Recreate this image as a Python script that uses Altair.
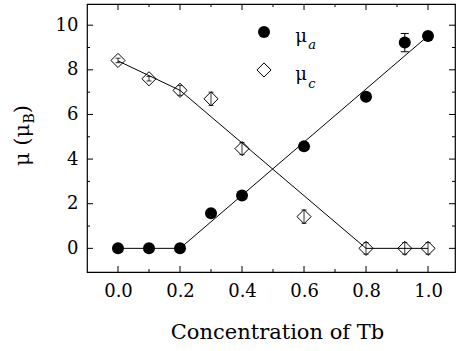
import altair as alt
import pandas as pd

# ---- data ----
conc = [0.0, 0.1, 0.2, 0.3, 0.4, 0.6, 0.8, 0.925, 1.0]
mu_a = [0.0, 0.0, 0.0, 1.57, 2.37, 4.57, 6.79, 9.22, 9.52]
mu_a_err = [0.1, 0.1, 0.1, 0.12, 0.12, 0.12, 0.12, 0.41, 0.12]
mu_c = [8.42, 7.6, 7.08, 6.7, 4.47, 1.42, 0.0, 0.0, 0.0]
mu_c_err = [0.1, 0.1, 0.22, 0.3, 0.27, 0.3, 0.26, 0.26, 0.26]

fit_a_x = [0.0, 0.2, 1.0]
fit_a_y = [0.0, 0.0, 9.52]
fit_c_x = [0.0, 0.2, 0.8, 1.0]
fit_c_y = [8.4, 7.08, 0.0, 0.0]

x_major = [0.0, 0.2, 0.4, 0.6, 0.8, 1.0]
x_minor = [0.1, 0.3, 0.5, 0.7, 0.9]
y_major = [0, 2, 4, 6, 8, 10]
y_minor = [1, 3, 5, 7, 9]

x_domain = [-0.1, 1.087]
y_domain = [-1.06, 10.95]

W, H = 368, 268
FONT = "DejaVu Serif"

xs = alt.Scale(domain=x_domain, nice=False, zero=False)
ys = alt.Scale(domain=y_domain, nice=False, zero=False)

xaxis = alt.Axis(values=x_major, format=".1f", grid=False, domain=False, ticks=False,
                 tickSize=0, labelPadding=24, labelBaseline="alphabetic",
                 labelFontSize=18, labelFont=FONT, labelColor="black",
                 labelFlush=False, labelOverlap=False,
                 title="Concentration of Tb", titleFont=FONT, titleFontSize=21,
                 titleFontWeight="normal", titleColor="black",
                 titleX=190, titleY=66, titleBaseline="alphabetic")
yaxis = alt.Axis(values=y_major, format="d", grid=False, domain=False, ticks=False,
                 tickSize=0, labelPadding=9, labelFontSize=18, labelFont=FONT,
                 labelColor="black", labelFlush=False, labelOverlap=False, title=None)


def X(f):
    return alt.X(f, type="quantitative", scale=xs, axis=xaxis)


def Y(f):
    return alt.Y(f, type="quantitative", scale=ys, axis=yaxis)


pts = pd.DataFrame({
    "x": conc,
    "a": mu_a,
    "a_lo": [v - e for v, e in zip(mu_a, mu_a_err)],
    "a_hi": [v + e for v, e in zip(mu_a, mu_a_err)],
    "c": mu_c,
    "c_lo": [v - e for v, e in zip(mu_c, mu_c_err)],
    "c_hi": [v + e for v, e in zip(mu_c, mu_c_err)],
})
fa = pd.DataFrame({"x": fit_a_x, "y": fit_a_y})
fc = pd.DataFrame({"x": fit_c_x, "y": fit_c_y})

line_a = alt.Chart(fa).mark_line(color="black", strokeWidth=1).encode(x=X("x"), y=Y("y"))
line_c = alt.Chart(fc).mark_line(color="black", strokeWidth=1).encode(x=X("x"), y=Y("y"))

base = alt.Chart(pts)
err_a = base.mark_rule(color="black", strokeWidth=1).encode(x=X("x"), y=Y("a_lo"), y2="a_hi")
cap_a_lo = base.mark_rule(color="black", strokeWidth=1, xOffset=-4, x2Offset=4).encode(
    x=X("x"), x2="x", y=Y("a_lo"))
cap_a_hi = base.mark_rule(color="black", strokeWidth=1, xOffset=-4, x2Offset=4).encode(
    x=X("x"), x2="x", y=Y("a_hi"))
err_c = base.mark_rule(color="black", strokeWidth=0.8).encode(x=X("x"), y=Y("c_lo"), y2="c_hi")
cap_c_lo = base.mark_rule(color="black", strokeWidth=0.8, xOffset=-2.5, x2Offset=2.5).encode(
    x=X("x"), x2="x", y=Y("c_lo"))
cap_c_hi = base.mark_rule(color="black", strokeWidth=0.8, xOffset=-2.5, x2Offset=2.5).encode(
    x=X("x"), x2="x", y=Y("c_hi"))

circles = base.mark_point(shape="circle", filled=True, size=144, color="black", opacity=1).encode(
    x=X("x"), y=Y("a"))
diamonds = base.mark_point(shape="diamond", filled=False, size=200, color="black",
                           strokeWidth=1, opacity=1).encode(x=X("x"), y=Y("c"))

# inward ticks on all four sides
xmaj = pd.DataFrame({"v": x_major})
xmin = pd.DataFrame({"v": x_minor})
ymaj = pd.DataFrame({"v": y_major})
ymin = pd.DataFrame({"v": y_minor})
tk = []
for df, ln in ((xmaj, 6), (xmin, 3)):
    tk.append(alt.Chart(df).mark_rule(color="black", strokeWidth=1).encode(
        x=X("v"), y=alt.value(H), y2=alt.value(H - ln)))
    tk.append(alt.Chart(df).mark_rule(color="black", strokeWidth=1).encode(
        x=X("v"), y=alt.value(0), y2=alt.value(ln)))
for df, ln in ((ymaj, 6), (ymin, 3)):
    tk.append(alt.Chart(df).mark_rule(color="black", strokeWidth=1).encode(
        y=Y("v"), x=alt.value(0), x2=alt.value(ln)))
    tk.append(alt.Chart(df).mark_rule(color="black", strokeWidth=1).encode(
        y=Y("v"), x=alt.value(W), x2=alt.value(W - ln)))

# legend (drawn inside the plot)
one = pd.DataFrame({"k": [0]})
leg_a = alt.Chart(one).mark_point(shape="circle", filled=True, size=144, color="black",
                                  opacity=1).encode(x=alt.value(177), y=alt.value(28))
leg_c = alt.Chart(one).mark_point(shape="diamond", filled=False, size=200, color="black",
                                  strokeWidth=1, opacity=1).encode(x=alt.value(177), y=alt.value(66))


def txt(s, x, y, size, italic=False, angle=0, align="center"):
    kw = dict(text=s, font=FONT, fontSize=size, color="black", baseline="alphabetic",
              align=align, angle=angle)
    if italic:
        kw["fontStyle"] = "italic"
    return alt.Chart(one).mark_text(**kw).encode(x=alt.value(x), y=alt.value(y))


texts = [
    txt("μ", 214, 38, 18),
    txt("a", 225, 45, 13, italic=True),
    txt("μ", 214, 76, 18),
    txt("c", 225, 84, 13, italic=True),
    # y-axis title  μ (μ_B)
    txt("μ (μ", -58, 162, 21, angle=270, align="left"),
    txt("B", -53, 119.5, 14, angle=270, align="left"),
    txt(")", -58, 109.3, 21, angle=270, align="left"),
]

chart = alt.layer(
    line_a, line_c, err_a, cap_a_lo, cap_a_hi, err_c, cap_c_lo, cap_c_hi,
    circles, diamonds, *tk, leg_a, leg_c, *texts
).properties(
    width=W, height=H,
    padding={"left": 87, "top": 4, "right": 1, "bottom": 79},
    autosize=alt.AutoSizeParams(type="none"),
    background="white",
).configure(font=FONT).configure_view(stroke="black", strokeWidth=1.2)

chart.save("out.html", embed_options={"renderer": "svg", "actions": False})
